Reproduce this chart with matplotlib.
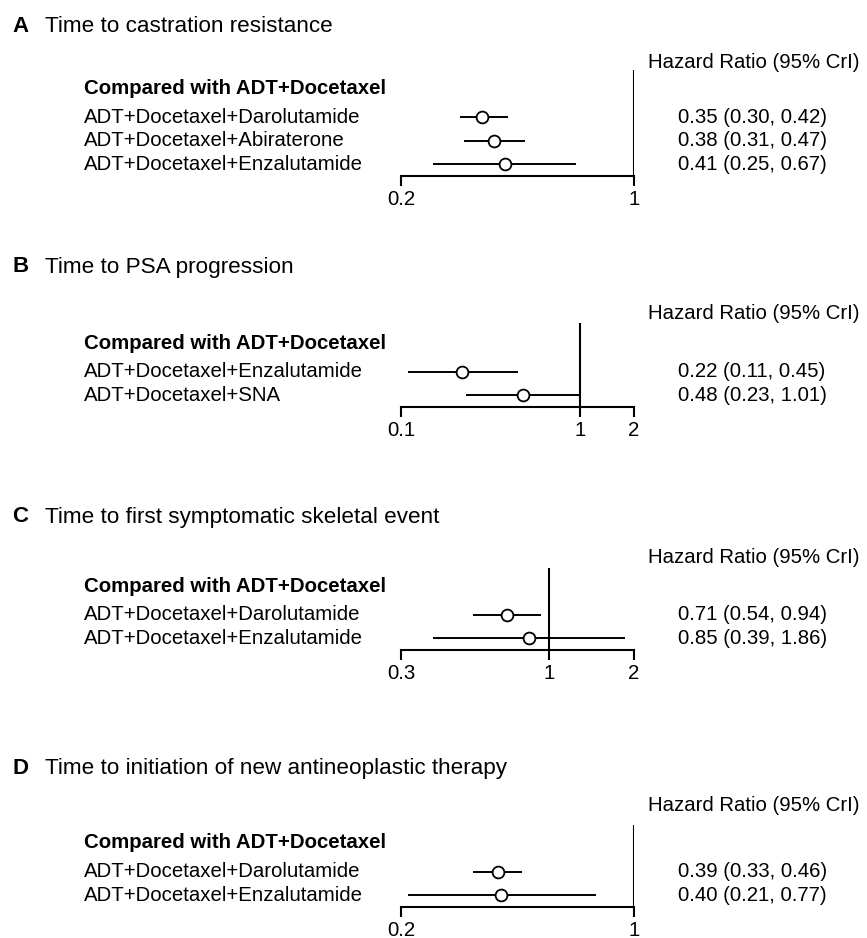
import matplotlib
matplotlib.use("Agg")
import matplotlib.pyplot as plt
import matplotlib.transforms as mtransforms
from matplotlib.ticker import FixedLocator, NullLocator, FixedFormatter

plt.rcParams['font.family'] = ['Liberation Sans', 'DejaVu Sans']

# ---------------- data ----------------
letters = ["A", "B", "C", "D"]
titles = ["Time to castration resistance",
          "Time to PSA progression",
          "Time to first symptomatic skeletal event",
          "Time to initiation of new antineoplastic therapy"]
comparator = "Compared with ADT+Docetaxel"
header = "Hazard Ratio (95% CrI)"

A_labels = ["ADT+Docetaxel+Darolutamide", "ADT+Docetaxel+Abiraterone", "ADT+Docetaxel+Enzalutamide"]
A_hr = [0.35, 0.38, 0.41]
A_lo = [0.30, 0.31, 0.25]
A_hi = [0.42, 0.47, 0.67]
A_ticks = [0.2, 1]

B_labels = ["ADT+Docetaxel+Enzalutamide", "ADT+Docetaxel+SNA"]
B_hr = [0.22, 0.48]
B_lo = [0.11, 0.23]
B_hi = [0.45, 1.01]
B_ticks = [0.1, 1, 2]

C_labels = ["ADT+Docetaxel+Darolutamide", "ADT+Docetaxel+Enzalutamide"]
C_hr = [0.71, 0.85]
C_lo = [0.54, 0.39]
C_hi = [0.94, 1.86]
C_ticks = [0.3, 1, 2]

D_labels = ["ADT+Docetaxel+Darolutamide", "ADT+Docetaxel+Enzalutamide"]
D_hr = [0.39, 0.40]
D_lo = [0.33, 0.21]
D_hi = [0.46, 0.77]
D_ticks = [0.2, 1]

panels = [
    (A_labels, A_hr, A_lo, A_hi, A_ticks),
    (B_labels, B_hr, B_lo, B_hi, B_ticks),
    (C_labels, C_hr, C_lo, C_hi, C_ticks),
    (D_labels, D_hr, D_lo, D_hi, D_ticks),
]

# ---------------- layout (pixels) ----------------
W, H = 867, 938
title_y = [27, 267, 517, 768]
header_y = [62, 313, 557, 805]
comp_y = [88, 343, 587, 843]
axis_y = [176, 407, 650, 907]
vtop_y = [70, 323, 568, 825]
ax_left, ax_right = 401, 634
row_px = 23.5
fs = 14.7

fig = plt.figure(figsize=(W / 100, H / 100), dpi=100)

def fx(x):
    return x / W

def fy(y):
    return 1 - y / H

for p, (labels, hr, lo, hi, ticks) in enumerate(panels):
    n = len(labels)
    top_units = (axis_y[p] - vtop_y[p]) / row_px - 0.5
    height_px = (top_units + 0.5) * row_px
    ax = fig.add_axes([fx(ax_left), fy(axis_y[p]), (ax_right - ax_left) / W, height_px / H])
    ax.set_xscale('log')
    ax.set_xlim(ticks[0], ticks[-1])
    ax.set_ylim(-0.5, top_units)
    for s in ['top', 'right', 'left']:
        ax.spines[s].set_visible(False)
    ax.spines['bottom'].set_linewidth(1.5)
    ax.xaxis.set_major_locator(FixedLocator(ticks))
    ax.xaxis.set_minor_locator(NullLocator())
    ax.xaxis.set_major_formatter(FixedFormatter([f"{t:g}" for t in ticks]))
    ax.tick_params(axis='x', direction='out', length=7, width=1.5, labelsize=fs, pad=3)
    ax.yaxis.set_visible(False)
    ax.patch.set_visible(False)
    ax.axvline(1, color='black', lw=1.5, zorder=1)

    ypos = [n - 1 - k for k in range(n)]
    ax.hlines(ypos, lo, hi, color='black', lw=1.4, zorder=2, clip_on=False)
    ax.plot(hr, ypos, 'o', ms=8.5, mfc='white', mec='black', mew=1.3, zorder=3, clip_on=False)

    trans = mtransforms.blended_transform_factory(fig.transFigure, ax.transData)
    for k in range(n):
        ax.text(fx(84), ypos[k], labels[k], transform=trans, ha='left', va='center', fontsize=fs)
        ax.text(fx(678), ypos[k], f"{hr[k]:.2f} ({lo[k]:.2f}, {hi[k]:.2f})",
                transform=trans, ha='left', va='center', fontsize=fs)

    fig.text(fx(12), fy(title_y[p]), letters[p], ha='left', va='center',
             fontsize=16, fontweight='bold')
    fig.text(fx(45), fy(title_y[p]), titles[p], ha='left', va='center', fontsize=16.2)
    fig.text(fx(84), fy(comp_y[p]), comparator, ha='left', va='center',
             fontsize=fs, fontweight='bold')
    fig.text(fx(860), fy(header_y[p]), header, ha='right', va='center', fontsize=fs)

fig.savefig("out.png", dpi=100, facecolor='white')
